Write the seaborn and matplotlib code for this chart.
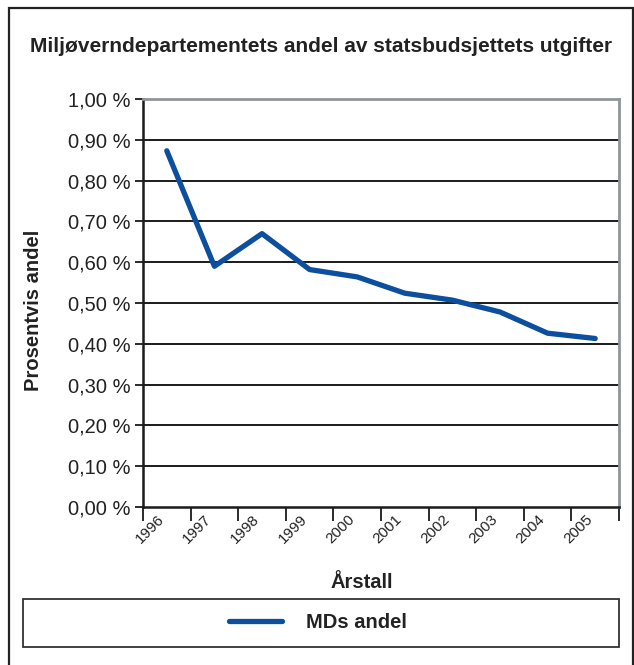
import numpy as np
import pandas as pd
import seaborn as sns
import matplotlib.pyplot as plt
from matplotlib.patches import Rectangle
from matplotlib.ticker import FuncFormatter

years = ["1996", "1997", "1998", "1999", "2000", "2001", "2002", "2003", "2004", "2005"]
md_andel = [0.873, 0.590, 0.670, 0.582, 0.564, 0.524, 0.507, 0.478, 0.426, 0.413]
yticks = [0.0, 0.1, 0.2, 0.3, 0.4, 0.5, 0.6, 0.7, 0.8, 0.9, 1.0]

df = pd.DataFrame({"pos": np.arange(len(years)), "andel": md_andel})

sns.set_theme(style="white")
plt.rcParams['font.family'] = ['Liberation Sans', 'DejaVu Sans']

W, H = 634, 665
fig = plt.figure(figsize=(W / 100, H / 100), dpi=100)
ax = fig.add_axes([143 / W, 1 - 507 / H, 476 / W, 408 / H])

blue = "#0b4f9e"
sns.lineplot(data=df, x="pos", y="andel", ax=ax, color=blue, linewidth=3.8,
             label="MDs andel", legend=False)

ax.set_xlim(-0.5, len(years) - 0.5)
ax.set_ylim(0, 1.0)

# horisontale rutenett
for v in yticks[1:-1]:
    ax.axhline(v, color="#1a1a1a", lw=1.4, zorder=1)

ax.set_yticks(yticks)
ax.yaxis.set_major_formatter(FuncFormatter(lambda v, p: f"{v:.2f} %".replace(".", ",")))
ax.tick_params(axis="y", which="major", direction="out", length=6, width=1.3,
               color="#1a1a1a", labelsize=14.5, pad=3, left=True, labelcolor="#222222")

ax.set_xticks(np.arange(-0.5, len(years), 1.0))
ax.set_xticklabels([])
ax.set_xticks(np.arange(len(years)), minor=True)
ax.set_xticklabels(years, minor=True, rotation=45, ha="right", va="top", fontsize=11,
                   color="#222222")
ax.tick_params(axis="x", which="major", direction="out", length=10, width=1.3,
               color="#1a1a1a", bottom=True)
ax.tick_params(axis="x", which="minor", length=0, pad=4)

ax.set_xlabel("")
ax.set_ylabel("")

for s in ["left", "bottom"]:
    ax.spines[s].set_color("#1a1a1a")
    ax.spines[s].set_linewidth(1.8)
for s in ["top", "right"]:
    ax.spines[s].set_color("#8e959c")
    ax.spines[s].set_linewidth(2.0)

fig.text(321 / W, 1 - 47 / H, "Miljøverndepartementets andel av statsbudsjettets utgifter",
         ha="center", va="center", fontsize=15, fontweight="bold", color="#222222")
fig.text(34 / W, 1 - 310 / H, "Prosentvis andel", rotation=90, ha="center", va="center",
         fontsize=14.5, fontweight="bold", color="#222222")
fig.text(362 / W, 1 - 582 / H, "Årstall", ha="center", va="center",
         fontsize=14.5, fontweight="bold", color="#222222")

# legendeboks
fig.patches.append(Rectangle((23 / W, 1 - 647 / H), 596 / W, 48 / H, transform=fig.transFigure,
                             fill=False, edgecolor="#333333", lw=1.3))
handles, labels = ax.get_legend_handles_labels()
leg = fig.legend(handles, labels, loc="center", bbox_to_anchor=(318 / W, 1 - 623 / H),
                 frameon=False, handlelength=2.6, handletextpad=1.2,
                 prop={"size": 14.5, "weight": "bold"})
for t in leg.get_texts():
    t.set_color("#222222")

# ytre ramme
fig.patches.append(Rectangle((9 / W, -0.05), 624 / W, 1.05 - 8 / H, transform=fig.transFigure,
                             fill=False, edgecolor="#222222", lw=1.6))

fig.savefig("out.png", dpi=100, facecolor="white")
